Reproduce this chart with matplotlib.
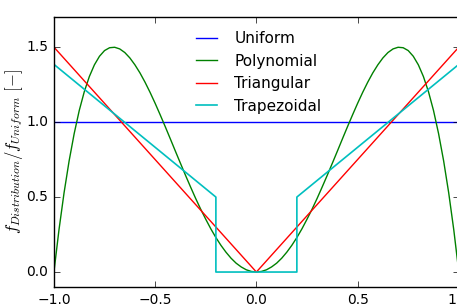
import numpy as np
import matplotlib
matplotlib.use("Agg")
import matplotlib.pyplot as plt

plt.style.use("classic")

labels = ["Uniform", "Polynomial", "Triangular", "Trapezoidal"]
colors = ["b", "g", "r", "c"]

# uniform
uni_x = [-1.0, 1.0]
uni_y = [1.0, 1.0]

# polynomial, read for x >= 0 (curve is symmetric about x = 0)
poly_x_half = [0.0, 0.025, 0.05, 0.075, 0.1, 0.125, 0.15, 0.175, 0.2, 0.225,
               0.25, 0.275, 0.3, 0.325, 0.35, 0.375, 0.4, 0.425, 0.45, 0.475,
               0.5, 0.525, 0.55, 0.575, 0.6, 0.625, 0.65, 0.675, 0.7, 0.725,
               0.75, 0.775, 0.8, 0.825, 0.85, 0.875, 0.9, 0.925, 0.95, 0.975, 1.0]
poly_y_half = [0.0, 0.004, 0.015, 0.034, 0.059, 0.092, 0.132, 0.178, 0.230, 0.288,
               0.352, 0.419, 0.491, 0.567, 0.645, 0.725, 0.806, 0.888, 0.969, 1.048,
               1.125, 1.198, 1.266, 1.328, 1.382, 1.428, 1.464, 1.488, 1.499, 1.496,
               1.477, 1.439, 1.382, 1.304, 1.203, 1.077, 0.923, 0.741, 0.528, 0.282, 0.0]

# triangular
tri_x = [-1.0, 0.0, 1.0]
tri_y = [1.5, 0.0, 1.5]

# trapezoidal
trap_x = [-1.0, -0.2, -0.2, 0.2, 0.2, 1.0]
trap_y = [1.385, 0.5, 0.0, 0.0, 0.5, 1.385]

poly_x = [-v for v in poly_x_half[::-1]] + poly_x_half[1:]
poly_y = poly_y_half[::-1] + poly_y_half[1:]

fig = plt.figure(figsize=(4.57, 3.06), dpi=100, facecolor="white")
ax = fig.add_axes([0.118, 0.062, 0.886, 0.882])
ax.set_facecolor("white")

ax.plot(uni_x, uni_y, color=colors[0], lw=1, label=labels[0])
ax.plot(poly_x, poly_y, color=colors[1], lw=1, label=labels[1])
ax.plot(tri_x, tri_y, color=colors[2], lw=1, label=labels[2])
ax.plot(trap_x, trap_y, color=colors[3], lw=1.2, label=labels[3])

ax.set_xlim(-1, 1)
ax.set_ylim(-0.1, 1.7)
ax.set_xticks([-1.0, -0.5, 0.0, 0.5, 1.0])
ax.set_yticks([0.0, 0.5, 1.0, 1.5])
ax.tick_params(labelsize=10)
ax.set_ylabel(r"$f_{Distribution}/f_{Uniform}\ [-]$", fontsize=12, labelpad=1)

ax.legend(loc="upper center", frameon=False, fontsize=11, handlelength=2)

fig.savefig("out.png", dpi=100, facecolor="white")
